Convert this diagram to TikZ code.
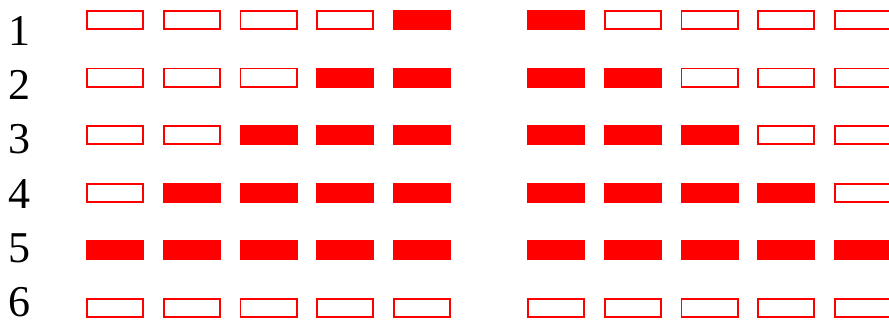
\documentclass[tikz,border=0pt]{standalone}
\usepackage{fontspec}
\setmainfont{Liberation Serif}
\tikzset{
  slot/.style={draw=red, line width=1.8pt, minimum width=56.2pt, minimum height=18.2pt, inner sep=0pt},
  full/.style={slot, fill=red},
  digit/.style={font=\fontsize{44}{44}\selectfont, anchor=base, inner sep=0pt}
}
\begin{document}
\begin{tikzpicture}[x=1pt,y=-1pt]
\useasboundingbox (0,0) rectangle (889,320);
\clip (0,0) rectangle (889,320);
\foreach \r in {1,...,6} {
  \node[digit] (d\r) at (20,{45.5+54.2*(\r-1)}) {\r};
  \foreach \c in {1,...,5} {
    \pgfmathtruncatemacro{\lf}{and(\r<6,\c>5-\r)}
    \pgfmathtruncatemacro{\rf}{and(\r<6,\c<=\r)}
    \ifnum\lf=1 \def\ls{full}\else\def\ls{slot}\fi
    \ifnum\rf=1 \def\rs{full}\else\def\rs{slot}\fi
    \node[\ls] (l\r\c) at ({115+76.75*(\c-1)},{20+57.6*(\r-1)}) {};
    \node[\rs] (r\r\c) at ({556+76.75*(\c-1)},{20+57.6*(\r-1)}) {};
  }
}
\end{tikzpicture}
\end{document}
